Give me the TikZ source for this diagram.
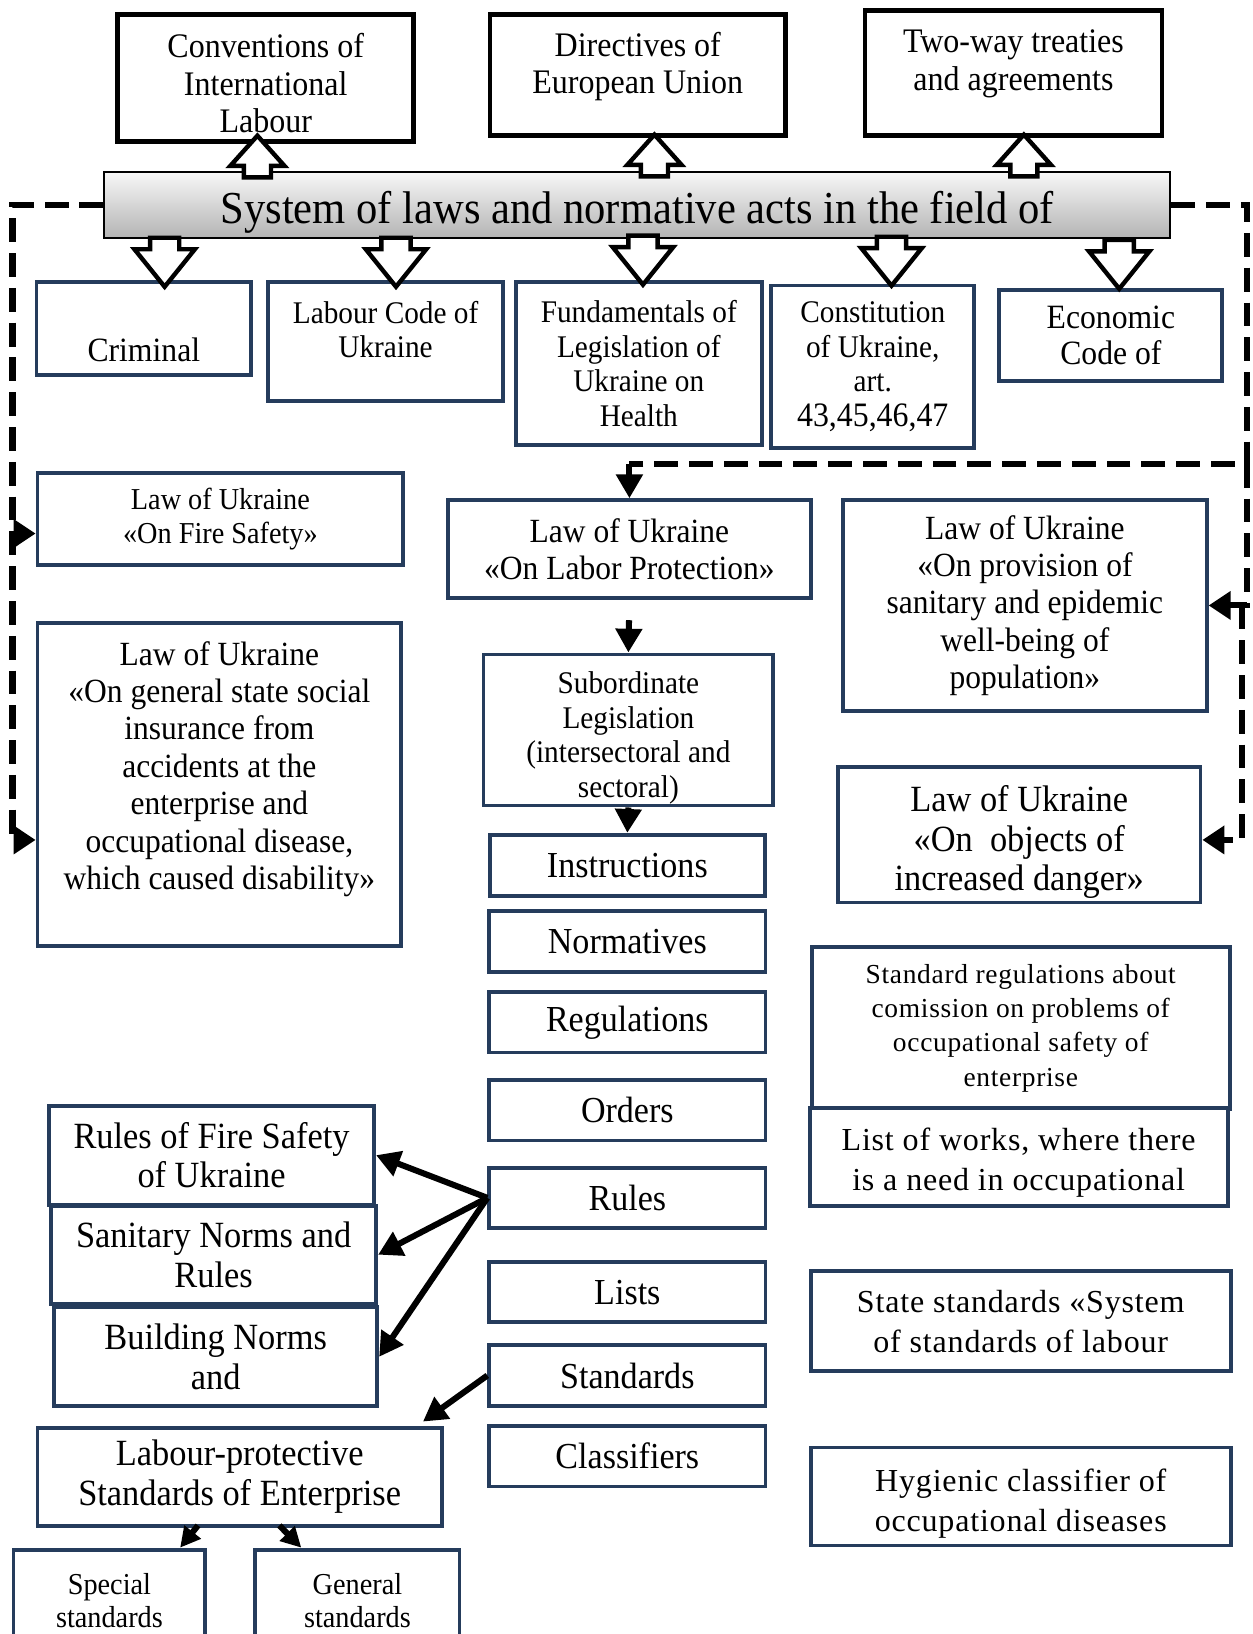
\documentclass[tikz,border=0pt]{standalone}
\usepackage{fontspec}
\setmainfont{Liberation Serif}[FakeStretch=0.93]
\newfontfamily\widefont{Liberation Serif}[LetterSpace=2.5]
\usepackage{tikz}
\usetikzlibrary{positioning,arrows.meta,calc}
\definecolor{tblue}{HTML}{253C5C}
\definecolor{tgray}{HTML}{B4B4B4}

\begin{document}
\begin{tikzpicture}[x=0.02cm, y=-0.02cm,
  wh/.style 2 args={minimum width=#1*0.02cm, minimum height=#2*0.02cm},
  topfont/.style={font=\fontsize{18.8}{20.5}\selectfont, align=center},
  codefont/.style={font=\fontsize{17.2}{18.8}\selectfont, align=center},
  bigcode/.style={font=\fontsize{18.6}{19.5}\selectfont, align=center},
  firefont/.style={font=\fontsize{16.6}{18.2}\selectfont, align=center},
  lawfont/.style={font=\fontsize{18.5}{20.4}\selectfont, align=center},
  bigfont/.style={font=\fontsize{20.2}{21.6}\selectfont, align=center},
  widesmall/.style={font=\widefont\fontsize{15}{18.8}\selectfont, align=center},
  widebig/.style={font=\widefont\fontsize{17.5}{22}\selectfont, align=center},
  topbox/.style={topfont, draw, line width=2.5pt, fill=white, inner sep=0pt},
  lawbox/.style={draw=tblue, line width=2.1pt, fill=white, inner sep=0pt, align=center},
  listbox/.style={lawbox, font=\fontsize{20}{22}\selectfont, wh={265}{58}},
  titlebar/.style={draw, line width=1pt, top color=gray!6, bottom color=tgray, inner sep=0pt,
    font=\fontsize{25}{28}\selectfont, text height=26pt, text depth=5.5pt},
  hollow/.style={draw, line width=2.4pt, fill=white, line join=miter},
  dline/.style={line width=3.3pt, dash pattern=on 13pt off 6pt},
  dtip/.style={dline, -{Triangle[length=12pt, width=15pt]}},
  arr/.style={line width=3.3pt, -{Triangle[length=13pt, width=14pt]}}]
\useasboundingbox (0,0) rectangle (1202,1568);

% sources above the system
\node[topbox, wh={284}{122}] (conv) at (255,75) {};
\node[topfont] (convtx) at (255,80) {Conventions of\\International\\Labour};
\node[topbox, wh={284}{116}] (dir) at (612,72) {};
\node[topfont] (dirtx) at (612,64) {Directives of\\European Union};
\node[topbox, wh={285}{120}] (two) at (972.5,70) {};
\node[topfont] (twotx) at (972.5,61) {Two-way treaties\\and agreements};

\node[titlebar, wh={1023}{63}] (sys) at (611.5,196.5) {System of laws and normative acts in the field of};

% codes
\node[lawbox, wh={206}{89}] (crim) at (138,315.5) {};
\node[bigcode] (crimtx) at (138,336) {Criminal};
\node[lawbox, wh={226}{114}] (lcode) at (370,328) {};
\node[codefont] (lcodetx) at (370,316.5) {Labour Code of\\Ukraine};
\node[lawbox, codefont, wh={236}{156}] (fund) at (613,349) {Fundamentals of\\Legislation of\\Ukraine on\\Health};
\node[lawbox, codefont, wh={195}{156}] (const) at (837.5,352) {Constitution\\of Ukraine,\\art.\\{\fontsize{18.7}{19}\selectfont 43,45,46,47}};
\node[lawbox, bigcode, wh={214}{88}] (econ) at (1066,322) {Economic\\Code of};

% laws of Ukraine
\node[lawbox, firefont, wh={351}{89}] (fire) at (211.5,498) {Law of Ukraine\\«On Fire Safety»};
\node[lawbox, wh={349}{310}] (ins) at (210.5,753) {};
\node[lawfont] (instx) at (210.5,738) {Law of Ukraine\\«On general state social\\insurance from\\accidents at the\\enterprise and\\occupational disease,\\which caused disability»};
\node[lawbox, lawfont, wh={348}{94}] (lab) at (604,527) {Law of Ukraine\\«On Labor Protection»};
\node[lawbox, lawfont, wh={349}{202}] (san) at (983.5,581) {Law of Ukraine\\«On provision of\\sanitary and epidemic\\well-being of\\population»};
\node[lawbox, wh={348}{130}] (obj) at (978,801) {};
\node[bigfont] (objtx) at (978,808) {Law of Ukraine\\«On\ \ objects of\\increased danger»};

% subordinate legislation
\node[lawbox, wh={278}{145}] (sub) at (603,700.5) {};
\node[codefont] (subtx) at (603,708) {Subordinate\\Legislation\\(intersectoral and\\sectoral)};
\node[listbox, wh={264}{59}] (inst) at (602,830.5) {Instructions};
\node[listbox, below=0.216cm of inst] (norm) {Normatives};
\node[listbox, below=0.316cm of norm] (reg) {Regulations};
\node[listbox, below=0.456cm of reg] (ord) {Orders};
\node[listbox, below=0.446cm of ord] (rul) {Rules};
\node[listbox, below=0.576cm of rul] (lst) {Lists};
\node[listbox, below=0.366cm of lst] (stds) {Standards};
\node[listbox, below=0.316cm of stds] (cls) {Classifiers};

\node[lawbox, widesmall, wh={401}{155}] (streg) at (979.5,986.5) {Standard regulations about\\comission on problems of\\occupational safety of\\enterprise};
\node[lawbox, wh={401}{94}] (wrk) at (977.5,1110) {};
\node[widebig] (wrktx) at (977.5,1116) {List of works, where there\\is a need in occupational};
\node[lawbox, widebig, wh={403}{96}] (sst) at (979.5,1268) {State standards «System\\of standards of labour};
\node[lawbox, wh={403}{94}] (hyg) at (979.5,1436) {};
\node[widebig] (hygtx) at (979.5,1443) {Hygienic classifier of\\occupational diseases};

\node[lawbox, bigfont, wh={312}{95}] (rfs) at (203,1108.5) {Rules of Fire Safety\\of Ukraine};
\node[lawbox, bigfont, wh={312}{94}] (snr) at (205,1204) {Sanitary Norms and\\Rules};
\node[lawbox, bigfont, wh={310}{95}] (bnr) at (207,1302) {Building Norms\\and};
\node[lawbox, bigfont, wh={388}{94}] (lps) at (230,1417) {Labour-protective\\Standards of Enterprise};
\node[lawbox, firefont, wh={184}{98}] (spec) at (105,1536) {Special\\standards};
\node[lawbox, firefont, wh={196}{98}] (gen) at (343,1536) {General\\standards};

% hollow block arrows
\foreach \n/\dx/\dy in {conv/-8/-8, dir/16/-3, two/10/-3}
  \draw[hollow, shift={($(\n.south)+(\dx,\dy)$)}] (0,0) -- (-26,29) -- (-13,29) -- (-13,40) -- (13,40) -- (13,29) -- (26,29) -- cycle;
\foreach \n/\dx/\dy in {crim/20/6, lcode/10/6, fund/4/4, const/18/2, econ/8/1}
  \draw[hollow, shift={($(\n.north)+(\dx,\dy)$)}] (0,0) -- (-29,-36) -- (-14,-36) -- (-14,-47) -- (14,-47) -- (14,-36) -- (29,-36) -- cycle;

% dashed links
\coordinate (lft) at (12,806);
\draw[dtip] (sys.west) -| (lft) -- (lft -| ins.west);
\draw[dtip] (lft |- 0,512) -- (fire.west |- 0,512);
\coordinate (rgt) at (1197,445);
\draw[dline] (sys.east) -| (rgt) -- (rgt -| lab.north);
\draw[arr] (rgt -| lab.north) -- (lab.north);
\draw[dtip] (rgt) |- (san.east);
\draw[dtip] ($(san.east)+(32,0)$) |- ($(obj.east)+(0,5)$);

% solid arrows
\draw[arr, shorten <=11pt] (lab.south) -- (sub.north);
\draw[arr] (sub.south) -- (inst.north);
\draw[arr] (rul.west) -- (rfs.east);
\draw[arr] (rul.west) -- (snr.east);
\draw[arr] (rul.west) -- (bnr.east);
\draw[arr] (stds.west) -- ($(lps.north east)+(-20,-4)$);
\draw[arr, -{Triangle[length=11pt, width=11pt]}] ($(lps.south)+(-40,-2)$) -- ($(spec.north east)+(-26,0)$);
\draw[arr, -{Triangle[length=11pt, width=11pt]}] ($(lps.south)+(38,-2)$) -- ($(gen.north west)+(46,0)$);
\end{tikzpicture}
\end{document}
